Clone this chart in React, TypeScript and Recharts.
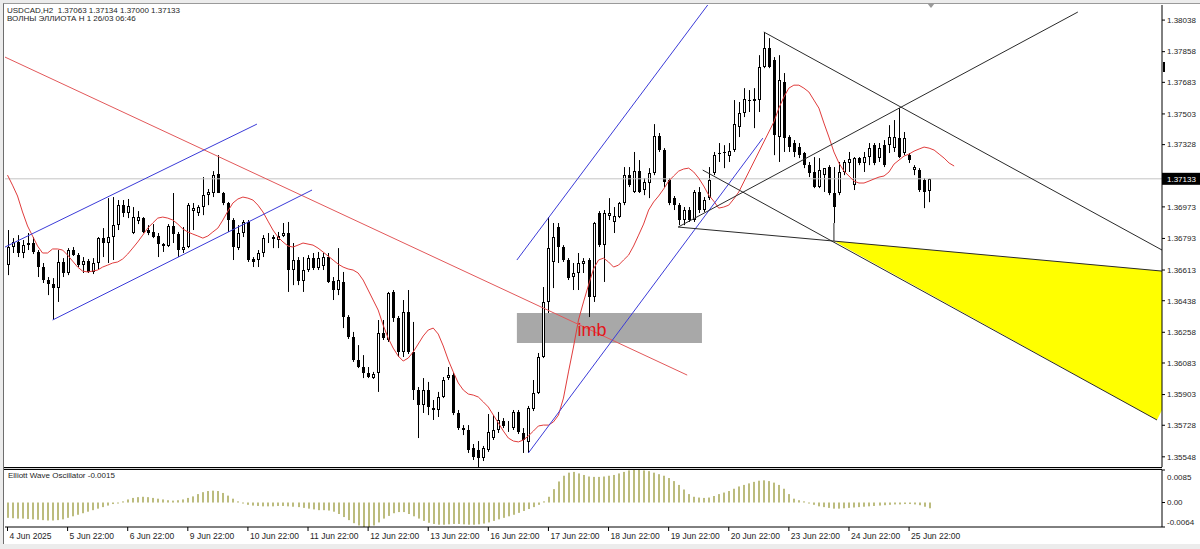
import React from 'react';
import {
  ComposedChart,
  Bar,
  Line,
  XAxis,
  YAxis,
  ReferenceLine,
  ReferenceArea,
  ReferenceDot,
} from 'recharts';

// USDCAD H2 candles, bar 0 = 4 Jun 22:00, last bar = 26 Jun 06:00
const OPEN = [
  1.36641, 1.36744, 1.36773, 1.36710, 1.36755, 1.36767, 1.36716, 1.36630, 1.36556, 1.36533,
  1.36510, 1.36659, 1.36596, 1.36727, 1.36698, 1.36641, 1.36664, 1.36602, 1.36653, 1.36795,
  1.36767, 1.36801, 1.36869, 1.36983, 1.36938, 1.36824, 1.36892, 1.36909, 1.36841, 1.36830,
  1.36807, 1.36761, 1.36750, 1.36864, 1.36818, 1.36727, 1.36744, 1.36949, 1.36938, 1.36972,
  1.37040, 1.37052, 1.37160, 1.37052, 1.36995, 1.36898, 1.36738, 1.36824, 1.36887, 1.36676,
  1.36670, 1.36710, 1.36795, 1.36801, 1.36784, 1.36807, 1.36824, 1.36613, 1.36670, 1.36550,
  1.36613, 1.36681, 1.36624, 1.36636, 1.36687, 1.36550, 1.36499, 1.36545, 1.36345, 1.36231,
  1.36100, 1.36060, 1.36026, 1.35997, 1.36026, 1.36254, 1.36214, 1.36488, 1.36339, 1.36146,
  1.36374, 1.36146, 1.35929, 1.35843, 1.35929, 1.35826, 1.35815, 1.35889, 1.35997, 1.36014,
  1.35798, 1.35712, 1.35701, 1.35598, 1.35587, 1.35541, 1.35587, 1.35655, 1.35701, 1.35752,
  1.35724, 1.35712, 1.35804, 1.35684, 1.35633, 1.35821, 1.35912, 1.36117, 1.36431, 1.36659,
  1.36858, 1.36744, 1.36670, 1.36573, 1.36596, 1.36647, 1.36670, 1.36459, 1.36938, 1.36755,
  1.36921, 1.36887, 1.36915, 1.36995, 1.37154, 1.37058, 1.37177, 1.37069, 1.37109, 1.37166,
  1.37377, 1.37297, 1.37126, 1.37023, 1.36983, 1.36898, 1.36955, 1.36898, 1.37058, 1.36955,
  1.37023, 1.37166, 1.37280, 1.37286, 1.37263, 1.37297, 1.37428, 1.37508, 1.37582, 1.37576,
  1.37582, 1.37770, 1.37878, 1.37810, 1.37371, 1.37685, 1.37371, 1.37337, 1.37314, 1.37280,
  1.37211, 1.37172, 1.37086, 1.37154, 1.37200, 1.37052, 1.37052, 1.37172, 1.37223, 1.37097,
  1.37251, 1.37223, 1.37257, 1.37325, 1.37251, 1.37325, 1.37325, 1.37308, 1.37365, 1.37280,
  1.37268, 1.37183, 1.37183, 1.37126, 1.37063,
];
const HIGH = [
  1.36841, 1.36795, 1.36812, 1.36784, 1.36824, 1.36801, 1.36727, 1.36653, 1.36573, 1.36567,
  1.36727, 1.36681, 1.36738, 1.36744, 1.36710, 1.36687, 1.36676, 1.36681, 1.36801, 1.36852,
  1.37023, 1.37029, 1.37012, 1.37012, 1.37018, 1.36972, 1.36949, 1.36915, 1.36869, 1.36875,
  1.36824, 1.36767, 1.36875, 1.37052, 1.36830, 1.36858, 1.36995, 1.36995, 1.36983, 1.37143,
  1.37075, 1.37177, 1.37268, 1.37058, 1.37001, 1.36909, 1.36869, 1.36898, 1.36898, 1.36687,
  1.36727, 1.36812, 1.36824, 1.36812, 1.36830, 1.36881, 1.36887, 1.36767, 1.36687, 1.36687,
  1.36698, 1.36710, 1.36716, 1.36710, 1.36710, 1.36573, 1.36738, 1.36602, 1.36356, 1.36260,
  1.36185, 1.36128, 1.36060, 1.36032, 1.36328, 1.36328, 1.36488, 1.36499, 1.36351, 1.36442,
  1.36499, 1.36317, 1.35946, 1.35997, 1.35975, 1.35872, 1.35918, 1.36003, 1.36060, 1.36026,
  1.35815, 1.35729, 1.35729, 1.35621, 1.35638, 1.35610, 1.35792, 1.35786, 1.35804, 1.35769,
  1.35752, 1.35815, 1.35815, 1.35712, 1.35838, 1.35986, 1.36140, 1.36516, 1.36915, 1.36881,
  1.36881, 1.36755, 1.36681, 1.36653, 1.36710, 1.36681, 1.36681, 1.36887, 1.36949, 1.36955,
  1.37023, 1.36972, 1.37001, 1.37200, 1.37200, 1.37286, 1.37240, 1.37137, 1.37194, 1.37445,
  1.37394, 1.37308, 1.37137, 1.37035, 1.36995, 1.36972, 1.36972, 1.37069, 1.37086, 1.37029,
  1.37200, 1.37286, 1.37337, 1.37325, 1.37337, 1.37582, 1.37571, 1.37650, 1.37639, 1.37650,
  1.37838, 1.37970, 1.37935, 1.37827, 1.37838, 1.37736, 1.37382, 1.37354, 1.37337, 1.37286,
  1.37229, 1.37257, 1.37251, 1.37194, 1.37211, 1.37200, 1.37229, 1.37240, 1.37286, 1.37257,
  1.37257, 1.37286, 1.37337, 1.37337, 1.37337, 1.37354, 1.37439, 1.37468, 1.37536, 1.37400,
  1.37280, 1.37211, 1.37194, 1.37137, 1.37134,
];
const LOW = [
  1.36584, 1.36710, 1.36687, 1.36681, 1.36727, 1.36704, 1.36573, 1.36539, 1.36470, 1.36328,
  1.36431, 1.36573, 1.36584, 1.36693, 1.36630, 1.36596, 1.36596, 1.36590, 1.36613, 1.36687,
  1.36653, 1.36670, 1.36841, 1.36915, 1.36909, 1.36818, 1.36875, 1.36824, 1.36812, 1.36795,
  1.36687, 1.36716, 1.36744, 1.36767, 1.36687, 1.36710, 1.36738, 1.36841, 1.36921, 1.36926,
  1.36983, 1.37029, 1.37052, 1.36983, 1.36830, 1.36670, 1.36727, 1.36801, 1.36659, 1.36630,
  1.36630, 1.36687, 1.36767, 1.36738, 1.36738, 1.36801, 1.36488, 1.36527, 1.36527, 1.36488,
  1.36602, 1.36613, 1.36613, 1.36613, 1.36539, 1.36442, 1.36470, 1.36282, 1.36220, 1.36089,
  1.36054, 1.35997, 1.35997, 1.35992, 1.35918, 1.36214, 1.36203, 1.36317, 1.36117, 1.36117,
  1.36134, 1.35872, 1.35655, 1.35798, 1.35786, 1.35758, 1.35775, 1.35883, 1.35986, 1.35786,
  1.35701, 1.35672, 1.35570, 1.35530, 1.35484, 1.35524, 1.35576, 1.35644, 1.35684, 1.35712,
  1.35690, 1.35701, 1.35678, 1.35570, 1.35570, 1.35809, 1.35906, 1.36111, 1.36368, 1.36510,
  1.36653, 1.36659, 1.36556, 1.36499, 1.36499, 1.36596, 1.36345, 1.36431, 1.36744, 1.36545,
  1.36898, 1.36824, 1.36909, 1.36983, 1.37086, 1.37052, 1.37052, 1.37040, 1.37023, 1.37154,
  1.37286, 1.37086, 1.36983, 1.36955, 1.36869, 1.36869, 1.36887, 1.36887, 1.36938, 1.36944,
  1.37012, 1.37154, 1.37229, 1.37194, 1.37229, 1.37286, 1.37371, 1.37485, 1.37514, 1.37422,
  1.37514, 1.37764, 1.37764, 1.37268, 1.37229, 1.37286, 1.37286, 1.37257, 1.37251, 1.37194,
  1.37143, 1.37080, 1.37080, 1.37058, 1.37040, 1.36881, 1.37040, 1.37154, 1.37172, 1.37069,
  1.37211, 1.37172, 1.37211, 1.37211, 1.37229, 1.37200, 1.37280, 1.37286, 1.37251, 1.37268,
  1.37223, 1.37154, 1.37058, 1.36966, 1.37000,
];
const CLOSE = [
  1.36744, 1.36773, 1.36710, 1.36755, 1.36767, 1.36716, 1.36630, 1.36556, 1.36533, 1.36510,
  1.36659, 1.36596, 1.36727, 1.36698, 1.36641, 1.36664, 1.36602, 1.36653, 1.36795, 1.36767,
  1.36801, 1.36869, 1.36983, 1.36938, 1.36978, 1.36915, 1.36915, 1.36830, 1.36824, 1.36801,
  1.36761, 1.36750, 1.36864, 1.36818, 1.36727, 1.36744, 1.36983, 1.36966, 1.36972, 1.37040,
  1.37058, 1.37154, 1.37052, 1.36995, 1.36898, 1.36744, 1.36824, 1.36887, 1.36670, 1.36659,
  1.36710, 1.36795, 1.36801, 1.36790, 1.36807, 1.36824, 1.36613, 1.36670, 1.36550, 1.36613,
  1.36681, 1.36624, 1.36681, 1.36687, 1.36545, 1.36499, 1.36556, 1.36345, 1.36231, 1.36100,
  1.36060, 1.36026, 1.36003, 1.36020, 1.36254, 1.36225, 1.36482, 1.36339, 1.36146, 1.36374,
  1.36146, 1.35929, 1.35843, 1.35929, 1.35832, 1.35815, 1.35889, 1.35986, 1.36014, 1.35798,
  1.35712, 1.35701, 1.35587, 1.35547, 1.35541, 1.35598, 1.35690, 1.35701, 1.35758, 1.35724,
  1.35729, 1.35804, 1.35690, 1.35644, 1.35826, 1.35912, 1.36117, 1.36431, 1.36738, 1.36801,
  1.36744, 1.36670, 1.36567, 1.36596, 1.36653, 1.36664, 1.36459, 1.36881, 1.36755, 1.36938,
  1.36938, 1.36921, 1.36995, 1.37154, 1.37097, 1.37177, 1.37058, 1.37115, 1.37166, 1.37377,
  1.37297, 1.37115, 1.36995, 1.36983, 1.36898, 1.36955, 1.36898, 1.37058, 1.36955, 1.37012,
  1.37126, 1.37268, 1.37274, 1.37280, 1.37291, 1.37445, 1.37508, 1.37588, 1.37576, 1.37588,
  1.37770, 1.37878, 1.37770, 1.37382, 1.37696, 1.37365, 1.37314, 1.37286, 1.37268, 1.37211,
  1.37166, 1.37086, 1.37183, 1.37194, 1.37052, 1.36972, 1.37172, 1.37229, 1.37246, 1.37251,
  1.37223, 1.37257, 1.37308, 1.37223, 1.37308, 1.37211, 1.37371, 1.37371, 1.37257, 1.37365,
  1.37240, 1.37200, 1.37069, 1.37058, 1.37133,
];

// red moving average, shifted forward so it runs a few bars past the last candle
const MA = [
  1.37154, 1.37097, 1.37035, 1.36944, 1.36864, 1.36807, 1.36750, 1.36710, 1.36710, 1.36733,
  1.36733, 1.36727, 1.36698, 1.36664, 1.36630, 1.36607, 1.36602, 1.36607, 1.36613, 1.36630,
  1.36641, 1.36653, 1.36659, 1.36676, 1.36704, 1.36738, 1.36773, 1.36812, 1.36852, 1.36881,
  1.36909, 1.36915, 1.36909, 1.36898, 1.36875, 1.36847, 1.36830, 1.36818, 1.36807, 1.36795,
  1.36807, 1.36830, 1.36852, 1.36898, 1.36949, 1.36995, 1.37018, 1.37029, 1.37023, 1.37012,
  1.36983, 1.36944, 1.36892, 1.36841, 1.36801, 1.36773, 1.36750, 1.36744, 1.36755, 1.36767,
  1.36761, 1.36755, 1.36738, 1.36716, 1.36693, 1.36670, 1.36647, 1.36630, 1.36619, 1.36613,
  1.36596, 1.36556, 1.36499, 1.36442, 1.36385, 1.36299, 1.36225, 1.36168, 1.36123, 1.36094,
  1.36111, 1.36146, 1.36191, 1.36237, 1.36271, 1.36282, 1.36248, 1.36180, 1.36100, 1.36032,
  1.35969, 1.35929, 1.35906, 1.35900, 1.35889, 1.35861, 1.35832, 1.35786, 1.35741, 1.35695,
  1.35655, 1.35638, 1.35633, 1.35644, 1.35667, 1.35695, 1.35724, 1.35729, 1.35729, 1.35747,
  1.35786, 1.35883, 1.36032, 1.36174, 1.36328, 1.36431, 1.36527, 1.36619, 1.36670, 1.36681,
  1.36659, 1.36630, 1.36641, 1.36670, 1.36698, 1.36750, 1.36812, 1.36875, 1.36955, 1.37001,
  1.37035, 1.37075, 1.37120, 1.37149, 1.37177, 1.37189, 1.37194, 1.37172, 1.37137, 1.37092,
  1.37040, 1.37006, 1.36966, 1.36972, 1.36983, 1.37018, 1.37058, 1.37115, 1.37172, 1.37229,
  1.37286, 1.37343, 1.37400, 1.37457, 1.37536, 1.37599, 1.37650, 1.37667, 1.37667, 1.37650,
  1.37628, 1.37582, 1.37536, 1.37451, 1.37371, 1.37286, 1.37223, 1.37177, 1.37149, 1.37120,
  1.37109, 1.37109, 1.37120, 1.37132, 1.37143, 1.37149, 1.37172, 1.37217, 1.37240, 1.37263,
  1.37274, 1.37291, 1.37303, 1.37314, 1.37308, 1.37297, 1.37274, 1.37251, 1.37223, 1.37206,
];

// Elliott Wave Oscillator histogram
const EWO = [
  -0.0040, -0.0041, -0.0042, -0.0042, -0.0043, -0.0044, -0.0045, -0.0046, -0.0047, -0.0047,
  -0.0046, -0.0044, -0.0040, -0.0036, -0.0032, -0.0028, -0.0024, -0.0020, -0.0016, -0.0012,
  -0.0008, -0.0004, -0.0001, 0.0003, 0.0008, 0.0012, 0.0014, 0.0015, 0.0014, 0.0012,
  0.0010, 0.0008, 0.0006, 0.0005, 0.0006, 0.0008, 0.0012, 0.0016, 0.0022, 0.0027,
  0.0030, 0.0031, 0.0030, 0.0025, 0.0018, 0.0010, 0.0003, -0.0002, -0.0006, -0.0008,
  -0.0009, -0.0010, -0.0010, -0.0010, -0.0009, -0.0009, -0.0010, -0.0011, -0.0012, -0.0014,
  -0.0016, -0.0018, -0.0020, -0.0020, -0.0021, -0.0024, -0.0030, -0.0038, -0.0046, -0.0054,
  -0.0060, -0.0064, -0.0064, -0.0060, -0.0052, -0.0042, -0.0035, -0.0028, -0.0025, -0.0025,
  -0.0030, -0.0036, -0.0042, -0.0048, -0.0053, -0.0056, -0.0058, -0.0058, -0.0057, -0.0056,
  -0.0056, -0.0057, -0.0058, -0.0058, -0.0057, -0.0055, -0.0052, -0.0048, -0.0044, -0.0040,
  -0.0036, -0.0032, -0.0027, -0.0022, -0.0017, -0.0012, -0.0006, 0.0003, 0.0015, 0.0035,
  0.0055, 0.0070, 0.0078, 0.0080, 0.0076, 0.0072, 0.0068, 0.0067, 0.0067, 0.0068,
  0.0070, 0.0072, 0.0076, 0.0080, 0.0084, 0.0085, 0.0085, 0.0084, 0.0082, 0.0078,
  0.0074, 0.0070, 0.0064, 0.0056, 0.0046, 0.0034, 0.0022, 0.0015, 0.0013, 0.0012,
  0.0013, 0.0017, 0.0022, 0.0026, 0.0030, 0.0036, 0.0042, 0.0046, 0.0050, 0.0054,
  0.0057, 0.0058, 0.0056, 0.0052, 0.0046, 0.0036, 0.0022, 0.0010, 0.0006, 0.0003,
  -0.0002, -0.0006, -0.0010, -0.0012, -0.0014, -0.0016, -0.0016, -0.0015, -0.0014, -0.0013,
  -0.0012, -0.0011, -0.0010, -0.0009, -0.0008, -0.0007, -0.0006, -0.0005, -0.0005, -0.0004,
  -0.0004, -0.0005, -0.0007, -0.0011, -0.0015,
];

const TIME_TICK_BARS = [0, 12, 24, 36, 48, 60, 72, 84, 96, 108, 120, 132, 144, 156, 168, 180];
const TIME_LABELS = [
  '4 Jun 2025', '5 Jun 22:00', '6 Jun 22:00', '9 Jun 22:00', '10 Jun 22:00', '11 Jun 22:00',
  '12 Jun 22:00', '13 Jun 22:00', '16 Jun 22:00', '17 Jun 22:00', '18 Jun 22:00', '19 Jun 22:00',
  '20 Jun 22:00', '23 Jun 22:00', '24 Jun 22:00', '25 Jun 22:00',
];
const PRICE_TICKS = [
  1.38038, 1.37858, 1.37683, 1.37503, 1.37328, 1.37133, 1.36973, 1.36793,
  1.36613, 1.36438, 1.36258, 1.36083, 1.35903, 1.35728, 1.35548,
];
const LAST_PRICE = 1.37133;
const EWO_TICKS = [0.0085, 0, -0.0064];

// hand-drawn objects, anchored as [bar, price]
const TRENDLINES = [
  { stroke: '#e2585a', a: [-0.5, 1.37827], b: [135.7, 1.36014] },
  { stroke: '#3b3bd8', a: [-0.5, 1.36744], b: [49.8, 1.37445] },
  { stroke: '#3b3bd8', a: [9, 1.36328], b: [60.8, 1.37069] },
  { stroke: '#3b3bd8', a: [101.7, 1.3667], b: [139.8, 1.38124] },
  { stroke: '#3b3bd8', a: [104, 1.3557], b: [150.8, 1.37365] },
  { stroke: '#2a2a2a', a: [133.9, 1.36858], b: [165, 1.36778] },
  { stroke: '#2a2a2a', a: [138.8, 1.37183], b: [229.5, 1.35758] },
  { stroke: '#2a2a2a', a: [133.9, 1.36858], b: [213.7, 1.38084] },
  { stroke: '#2a2a2a', a: [151, 1.3797], b: [230.5, 1.36727] },
  { stroke: '#2a2a2a', a: [165, 1.36778], b: [230.5, 1.36607] },
  { stroke: '#2a2a2a', a: [165, 1.36881], b: [165, 1.36778] },
];
const FAN = { apex: [165, 1.36778], upper: [230.5, 1.36607], cut: [230.5, 1.35815], lower: [229.5, 1.35758] };
const IMB_BOX = { x1: 101.7, x2: 138.65, top: 1.36368, bottom: 1.36197 };
const IMB_TEXT = { x: 116.7, y: 1.36271 };

const SLOTS = 231;
const X_DOMAIN = [-0.5, 230.5];
const Y_DOMAIN = [1.3549, 1.38124];
const FONT = '"Liberation Sans", Arial, sans-serif';
const TEXT = '#1e1e1e';

const rows = Array.from({ length: SLOTS }, (_, i) => ({
  i,
  o: OPEN[i] ?? null,
  h: HIGH[i] ?? null,
  l: LOW[i] ?? null,
  c: CLOSE[i] ?? null,
  ma: MA[i] ?? null,
  ewo: EWO[i] ?? null,
}));

const candleRange = (d: any) => (d.h == null ? null : [d.l, d.h]);

const Candle = (props: any) => {
  const { x, y, width, height, payload } = props;
  if (!payload || payload.o == null) return null;
  const top = Math.min(y, y + height);
  const bot = Math.max(y, y + height);
  const span = payload.h - payload.l || 1e-9;
  const toY = (v: number) => top + ((payload.h - v) / span) * (bot - top);
  const cx = Math.round(x + width / 2);
  const yo = toY(payload.o);
  const yc = toY(payload.c);
  const bTop = Math.round(Math.min(yo, yc));
  const bBot = Math.max(Math.round(Math.max(yo, yc)), bTop + 1);
  const bull = payload.c >= payload.o;
  return (
    <g>
      <line x1={cx + 0.5} x2={cx + 0.5} y1={top} y2={bot} stroke="#000" strokeWidth={1} />
      {bull ? (
        <rect x={cx - 0.5} y={bTop + 0.5} width={2} height={Math.max(bBot - bTop - 1, 0)} fill="#fff" stroke="#000" strokeWidth={1} />
      ) : (
        <rect x={cx - 1} y={bTop} width={3} height={bBot - bTop} fill="#000" />
      )}
    </g>
  );
};

const EwoBar = (props: any) => {
  const { x, y, width, height } = props;
  if (height == null || isNaN(y)) return null;
  const cx = Math.round(x + width / 2);
  const top = Math.min(y, y + height);
  return <rect x={cx - 1} y={top} width={2} height={Math.max(Math.abs(height), 1)} fill="#bcbc7e" />;
};

const PriceTick = (p: any) => {
  const v = p.payload.value;
  if (v === LAST_PRICE) {
    return (
      <g>
        <rect x={p.x - 5} y={p.y - 6} width={40} height={12} fill="#000" />
        <text x={p.x} y={p.y} dy="0.35em" fill="#fff" fontSize={8} fontFamily={FONT}>{v.toFixed(5)}</text>
      </g>
    );
  }
  return (
    <text x={p.x} y={p.y} dy="0.35em" fill={TEXT} fontSize={8} fontFamily={FONT}>{v.toFixed(5)}</text>
  );
};

const EwoTick = (p: any) => {
  const v = p.payload.value;
  const label = v === 0 ? '0.00' : v.toFixed(4);
  const shift = v > 0 ? 7 : v < 0 ? -5 : 0;
  return (
    <text x={p.x} y={p.y + shift} dy="0.35em" fill={TEXT} fontSize={8} fontFamily={FONT}>{label}</text>
  );
};

const TimeTick = (p: any) => {
  const k = TIME_TICK_BARS.indexOf(p.payload.value);
  return (
    <text x={p.x + 2} y={p.y} dy="0.71em" fill={TEXT} fontSize={8.5} fontFamily={FONT}>{TIME_LABELS[k]}</text>
  );
};

const FanShape = (p: any) => {
  const { x, y, width, height } = p;
  const [i0, pTop] = FAN.apex;
  const i1 = FAN.upper[0];
  const pBot = FAN.lower[1];
  const X = (i: number) => x + ((i - i0) / (i1 - i0)) * width;
  const Y = (v: number) => y + ((pTop - v) / (pTop - pBot)) * height;
  const pts = [FAN.apex, FAN.upper, FAN.cut, FAN.lower].map(([i, v]) => `${X(i)},${Y(v)}`).join(' ');
  return <polygon points={pts} fill="#ffff00" stroke="none" />;
};

const ImbText = (p: any) => (
  <text x={p.cx} y={p.cy} textAnchor="middle" dominantBaseline="central" fill="#e3161b" fontSize={18} fontFamily={FONT}>imb</text>
);

export default function App() {
  const header = `USDCAD,H2  ${OPEN[184].toFixed(5)} ${HIGH[184].toFixed(5)} ${LOW[184].toFixed(5)} ${CLOSE[184].toFixed(5)}`;
  return (
    <div style={{ position: 'absolute', left: 0, top: 0, width: 1200, height: 549, background: '#ececec', overflow: 'hidden', fontFamily: FONT }}>
      <div style={{ position: 'absolute', left: 3, top: 3, width: 1197, height: 541, background: '#fff', borderLeft: '1px solid #6e6e6e', borderTop: '1px solid #9a9a9a', boxSizing: 'border-box' }} />

      <div style={{ position: 'absolute', left: 0, top: 0 }}>
        <ComposedChart width={1200} height={469} data={rows} margin={{ top: 5, right: 1, bottom: 2, left: 5 }}>
          <XAxis dataKey="i" type="number" domain={X_DOMAIN} allowDataOverflow hide />
          <YAxis
            orientation="right"
            type="number"
            domain={Y_DOMAIN}
            allowDataOverflow
            width={37}
            ticks={PRICE_TICKS}
            interval={0}
            tick={<PriceTick />}
            tickSize={3}
            tickMargin={2}
            tickLine={{ stroke: '#000' }}
            axisLine={{ stroke: '#000' }}
          />
          <ReferenceArea x1={FAN.apex[0]} x2={FAN.upper[0]} y1={FAN.lower[1]} y2={FAN.apex[1]} shape={<FanShape />} ifOverflow="visible" />
          <ReferenceArea x1={IMB_BOX.x1} x2={IMB_BOX.x2} y1={IMB_BOX.bottom} y2={IMB_BOX.top} fill="#a8a8a8" fillOpacity={1} stroke="none" ifOverflow="visible" />
          <ReferenceLine y={LAST_PRICE} stroke="#c4c4c4" strokeWidth={1} />
          <Bar dataKey={candleRange} shape={Candle} barSize={3} isAnimationActive={false} />
          <Line dataKey="ma" type="linear" stroke="#e03c3c" strokeWidth={1} dot={false} activeDot={false} isAnimationActive={false} />
          {TRENDLINES.map((t, k) => (
            <ReferenceLine
              key={k}
              segment={[{ x: t.a[0], y: t.a[1] }, { x: t.b[0], y: t.b[1] }]}
              stroke={t.stroke}
              strokeWidth={1}
              ifOverflow="hidden"
            />
          ))}
          <ReferenceDot x={IMB_TEXT.x} y={IMB_TEXT.y} r={0} shape={ImbText} ifOverflow="visible" />
        </ComposedChart>
      </div>

      <div style={{ position: 'absolute', left: 4, top: 467, width: 1158, height: 3, background: '#d6d6d6', borderTop: '1px solid #000', borderBottom: '1px solid #000', boxSizing: 'border-box' }} />

      <div style={{ position: 'absolute', left: 0, top: 469 }}>
        <ComposedChart width={1200} height={80} data={rows} margin={{ top: 1, right: 1, bottom: 0, left: 5 }}>
          <XAxis
            dataKey="i"
            type="number"
            domain={X_DOMAIN}
            allowDataOverflow
            ticks={TIME_TICK_BARS}
            interval={0}
            tick={<TimeTick />}
            tickSize={4}
            tickMargin={2}
            height={22}
            tickLine={{ stroke: '#000' }}
            axisLine={{ stroke: '#000' }}
          />
          <YAxis
            orientation="right"
            type="number"
            domain={[-0.0064, 0.0085]}
            allowDataOverflow
            width={37}
            ticks={EWO_TICKS}
            interval={0}
            tick={<EwoTick />}
            tickSize={3}
            tickMargin={2}
            tickLine={{ stroke: '#000' }}
            axisLine={{ stroke: '#000' }}
          />
          <Bar dataKey="ewo" shape={EwoBar} barSize={2} isAnimationActive={false} />
        </ComposedChart>
      </div>

      {/* terminal markers: chart-shift tab at the top, scroll mark on the price scale */}
      <div style={{ position: 'absolute', left: 927, top: 3, width: 0, height: 0, borderLeft: '4px solid transparent', borderRight: '4px solid transparent', borderTop: '5px solid #9a9a9a' }} />
      <div style={{ position: 'absolute', left: 1163, top: 62, width: 2, height: 10, background: '#000' }} />

      <div style={{ position: 'absolute', left: 7, top: 7, fontSize: 8, lineHeight: '8px', color: TEXT, whiteSpace: 'pre' }}>
        {header}
        {'\n'}ВОЛНЫ ЭЛЛИОТА Н 1 26/03 06:46
      </div>
      <div style={{ position: 'absolute', left: 8, top: 472, fontSize: 8, lineHeight: '8px', color: TEXT, whiteSpace: 'pre' }}>
        Elliott Wave Oscillator -0.0015
      </div>
    </div>
  );
}
